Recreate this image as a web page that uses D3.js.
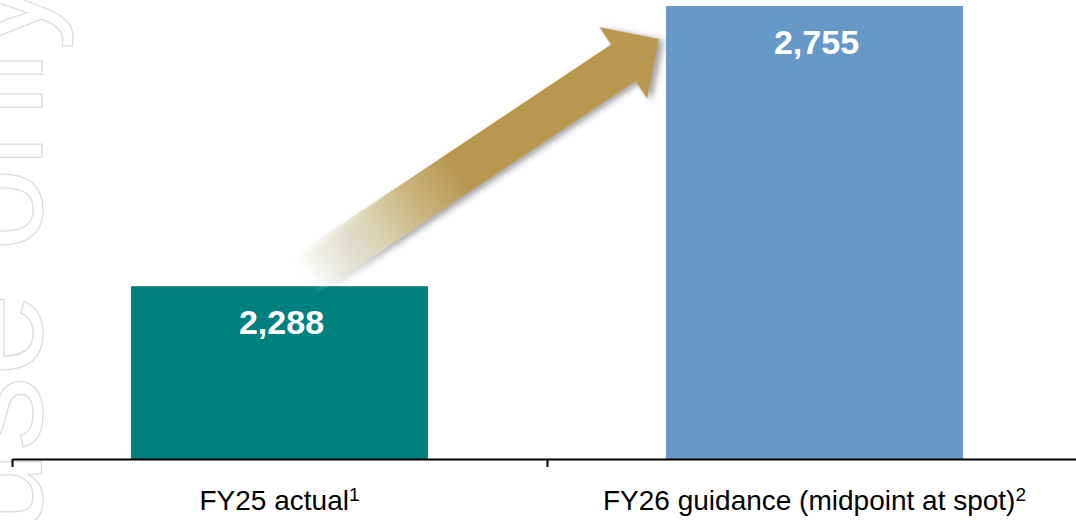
<!DOCTYPE html>
<html>
<head>
<meta charset="utf-8">
<script src="https://cdn.jsdelivr.net/npm/d3@7"></script>
<style>
	body { margin: 0; background: #fff; }
	svg { display: block; font-family: "Liberation Sans", Arial, sans-serif; }
	.axis path, .axis line { stroke: #000; stroke-width: 2; }
</style>
</head>
<body>
<svg id="chart" width="1076" height="520"></svg>
<script>
var categories = ['FY25 actual', 'FY26 guidance (midpoint at spot)'];
var notes = ['1', '2'];
var values = [2288, 2755];
var colors = ['#00807f', '#6699c8'];

var width = 1076;
var height = 520;
var baseY = 459;

var svg = d3.select('#chart');

var xBand = d3.scaleBand()
	.domain(categories)
	.range([12, 1082])
	.paddingInner(0.445)
	.paddingOuter(0.2225);

var xEdge = d3.scaleLinear()
	.domain([0, categories.length])
	.range(xBand.range());

var yScale = d3.scaleLinear()
	.domain([2000, 2765])
	.range([baseY, 0]);

// watermark (cut by the page edge, as in the source slide)
svg.append('text')
	.text('For personal use only')
	.attr('transform', 'translate(42,-24) rotate(-90)')
	.attr('text-anchor', 'end')
	.style('font-size', '150px')
	.style('fill', 'none')
	.style('stroke', '#dcdcdc')
	.style('stroke-width', 1.3);

// bars
svg.selectAll('.bar')
	.data(values)
	.enter()
	.append('rect')
	.attr('class', 'bar')
	.attr('x', (d, i) => xBand(categories[i]))
	.attr('y', d => yScale(d))
	.attr('width', xBand.bandwidth())
	.attr('height', d => baseY - yScale(d))
	.style('fill', (d, i) => colors[i]);

svg.selectAll('.value')
	.data(values)
	.enter()
	.append('text')
	.attr('class', 'value')
	.text(d => d3.format(',')(d))
	.attr('x', (d, i) => xBand(categories[i]) + xBand.bandwidth()/2 + 2)
	.attr('y', d => yScale(d) + 48)
	.attr('text-anchor', 'middle')
	.style('font-size', '34px')
	.style('font-weight', 700)
	.style('fill', '#fff');

// growth arrow, anchored to the two bar tops
var defs = svg.append('defs');
var start = [xBand(categories[0]) + xBand.bandwidth()*0.58, yScale(values[0]) - 10];
var end = [xBand(categories[1]) - 7, yScale(values[1]) + 33];
var len = Math.hypot(end[0] - start[0], end[1] - start[1]);
var ang = Math.atan2(end[1] - start[1], end[0] - start[0]) * 180 / Math.PI;

var grad = defs.append('linearGradient')
	.attr('id', 'arrowGrad')
	.attr('gradientUnits', 'userSpaceOnUse')
	.attr('x1', 0).attr('y1', 0)
	.attr('x2', len).attr('y2', 0);
[
	[0, '#f4f1e4', 0],
	[0.08, '#ece8d4', 0.35],
	[0.2, '#dcd6b0', 0.85],
	[0.32, '#c9b27a', 1],
	[0.44, '#b99750', 1],
	[1, '#b99750', 1]
].forEach(s => {
	grad.append('stop')
		.attr('offset', s[0])
		.attr('stop-color', s[1])
		.attr('stop-opacity', s[2]);
});

var filter = defs.append('filter')
	.attr('id', 'shadow')
	.attr('x', '-20%').attr('y', '-40%')
	.attr('width', '140%').attr('height', '180%');
filter.append('feDropShadow')
	.attr('dx', 3).attr('dy', 4)
	.attr('stdDeviation', 3)
	.attr('flood-color', '#555')
	.attr('flood-opacity', 0.55);

var shaft = 22, head = 43, headLen = 43;
var pts = [
	[0, -shaft], [len - headLen, -shaft], [len - headLen, -head],
	[len, 0],
	[len - headLen, head], [len - headLen, shaft], [0, shaft]
];

svg.append('g')
	.attr('transform', `translate(${start[0]},${start[1]}) rotate(${ang})`)
	.append('polygon')
	.attr('points', pts.map(p => p.join(',')).join(' '))
	.style('fill', 'url(#arrowGrad)')
	.attr('filter', 'url(#shadow)');

// axis with ticks between categories
svg.append('g')
	.attr('class', 'axis')
	.attr('transform', `translate(0,${baseY})`)
	.call(d3.axisBottom(xEdge)
		.tickValues(d3.range(categories.length + 1))
		.tickFormat('')
		.tickSize(8)
		.tickSizeOuter(0));

var labels = svg.selectAll('.cat')
	.data(categories)
	.enter()
	.append('text')
	.attr('class', 'cat')
	.attr('x', d => xBand(d) + xBand.bandwidth()/2)
	.attr('y', 510)
	.attr('text-anchor', 'middle')
	.style('font-size', '28px')
	.style('fill', '#000');
labels.append('tspan').text(d => d);
labels.append('tspan')
	.text((d, i) => notes[i])
	.attr('dy', -9)
	.style('font-size', '19px');
</script>
</body>
</html>
